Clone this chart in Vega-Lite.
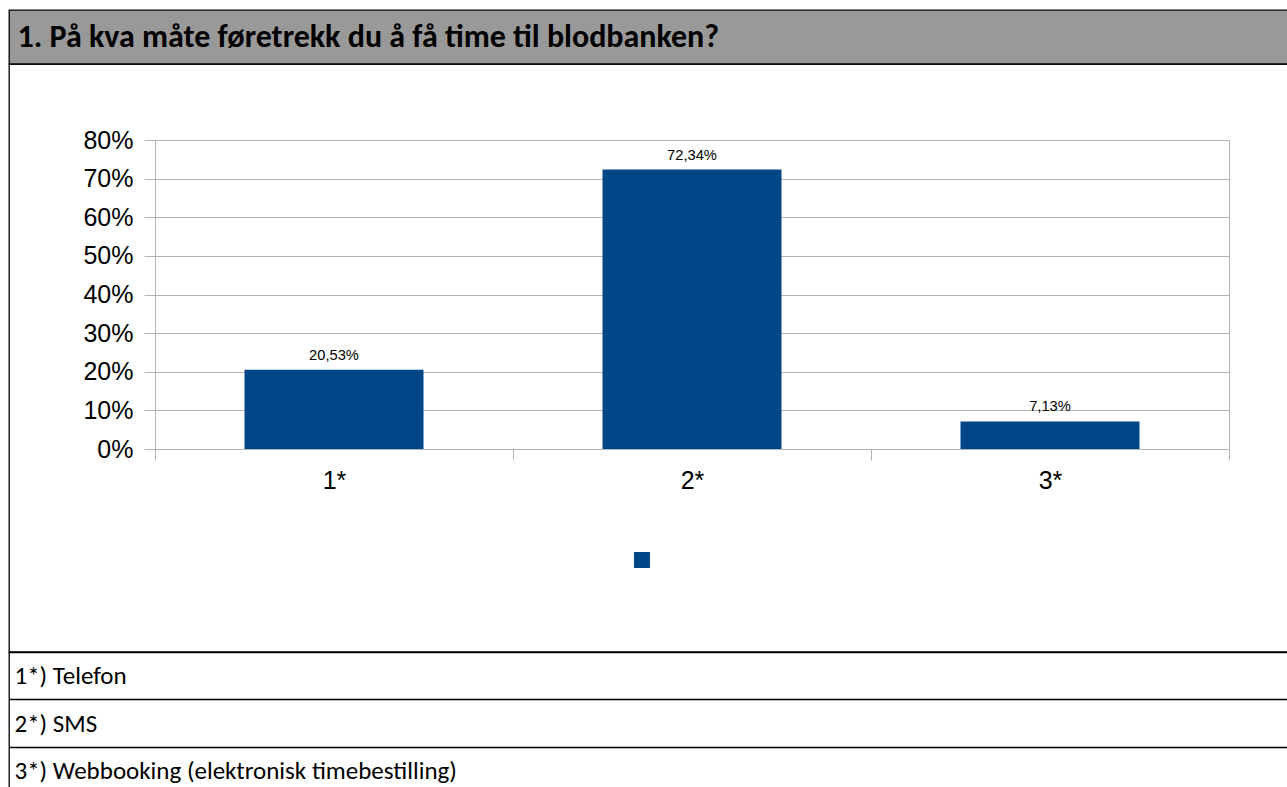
{
  "$schema": "https://vega.github.io/schema/vega-lite/v6.json",
  "padding": {"left": 8, "top": 9, "right": 0, "bottom": 0},
  "autosize": {"type": "pad"},
  "background": "white",
  "spacing": 0,
  "bounds": "flush",
  "config": {
    "locale": {"number": {"decimal": ",", "thousands": " ", "grouping": [3], "currency": ["", " kr"]}},
    "view": {"stroke": "black", "strokeWidth": 1.3}
  },
  "vconcat": [
    {
      "width": 1285,
      "height": 54,
      "view": {"fill": "#999999", "stroke": "black", "strokeWidth": 1.3},
      "data": {"values": [{"q": "1. På kva måte føretrekk du å få time til blodbanken?"}]},
      "mark": {"type": "rect", "opacity": 0},
      "encoding": {
        "y": {
          "field": "q", "type": "nominal",
          "scale": {"paddingInner": 0, "paddingOuter": 0},
          "axis": {"title": null, "domain": false, "ticks": false, "tickSize": 0, "grid": false,
                   "labelAlign": "left", "labelBaseline": "middle", "labelPadding": -8,
                   "labelFont": "Carlito, Lato", "labelFontWeight": "bold", "labelFontSize": 32,
                   "labelColor": "black", "labelLimit": 0}
        }
      }
    },
    {
      "width": 1285,
      "height": 588,
      "data": {"values": [
        {"svar": "1*", "andel": 0.2053, "serie": " "},
        {"svar": "2*", "andel": 0.7234, "serie": " "},
        {"svar": "3*", "andel": 0.0713, "serie": " "}
      ]},
      "layer": [
        {
          "mark": {"type": "bar", "width": {"band": 0.5}},
          "encoding": {
            "x": {
              "field": "svar", "type": "nominal", "sort": null,
              "scale": {"range": [146, 1220], "paddingInner": 0, "paddingOuter": 0},
              "axis": {"orient": "bottom", "offset": -203, "tickBand": "extent", "tickSize": 11,
                       "tickColor": "#b3b3b3", "domainColor": "#b3b3b3", "grid": false, "labelAngle": 0,
                       "labelFont": "Liberation Sans", "labelFontSize": 25, "labelColor": "black",
                       "labelPadding": 8, "title": null}
            },
            "y": {
              "field": "andel", "type": "quantitative",
              "scale": {"domain": [0, 0.8], "range": [385, 76], "nice": false, "zero": true},
              "axis": {"orient": "left", "offset": -146, "values": [0, 0.1, 0.2, 0.3, 0.4, 0.5, 0.6, 0.7, 0.8],
                       "format": ".0%", "tickSize": 11, "tickColor": "#b3b3b3", "domainColor": "#b3b3b3",
                       "grid": true, "gridColor": "#b3b3b3", "labelFont": "Liberation Sans",
                       "labelFontSize": 25, "labelColor": "black", "labelPadding": 11, "title": null}
            },
            "color": {
              "field": "serie", "type": "nominal",
              "scale": {"range": ["#004586"]},
              "legend": {"orient": "none", "legendX": 625, "legendY": 542, "title": null,
                         "symbolType": "square", "symbolSize": 256, "padding": 0,
                         "labelFontSize": 1, "symbolStrokeWidth": 0, "symbolOpacity": 1}
            }
          }
        },
        {
          "mark": {"type": "text", "dy": -10, "baseline": "alphabetic", "font": "Liberation Sans",
                   "fontSize": 14.7, "color": "black"},
          "encoding": {
            "x": {"field": "svar", "type": "nominal", "sort": null},
            "y": {
              "field": "andel", "type": "quantitative",
              "axis": {"orient": "right", "offset": -65, "labels": false, "ticks": false, "grid": false,
                       "domain": true, "domainColor": "#b3b3b3", "title": null}
            },
            "text": {"field": "andel", "type": "quantitative", "format": ".2%"}
          }
        }
      ],
      "resolve": {"axis": {"y": "independent"}}
    },
    {
      "width": 1285,
      "height": 142,
      "data": {"values": [
        {"r": "1*) Telefon"},
        {"r": "2*) SMS"},
        {"r": "3*) Webbooking (elektronisk timebestilling)"}
      ]},
      "mark": {"type": "rect", "opacity": 0},
      "encoding": {
        "y": {
          "field": "r", "type": "nominal", "sort": null,
          "scale": {"paddingInner": 0, "paddingOuter": 0},
          "axis": {"title": null, "domain": false, "ticks": false, "tickSize": 0, "grid": true,
                   "gridColor": "black", "gridWidth": 1.3, "tickBand": "extent",
                   "labelAlign": "left", "labelBaseline": "middle", "labelPadding": -5,
                   "labelFont": "Carlito, Lato", "labelFontSize": 25, "labelColor": "black", "labelLimit": 0}
        }
      }
    }
  ]
}
